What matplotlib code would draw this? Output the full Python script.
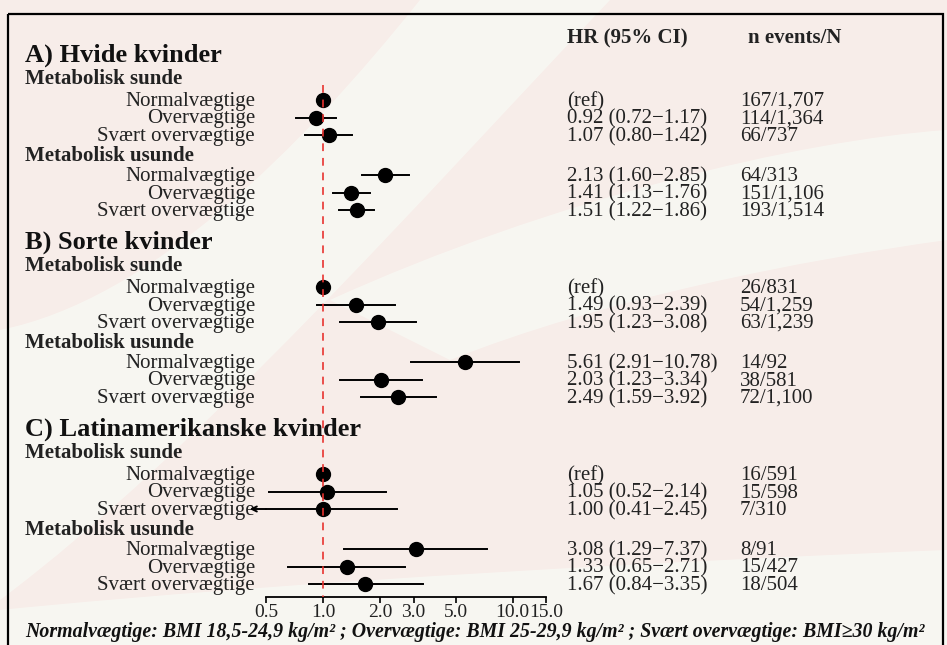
import numpy as np
import matplotlib
matplotlib.use("Agg")
import matplotlib.pyplot as plt
from matplotlib.patches import Rectangle, PathPatch
from matplotlib.path import Path

plt.rcParams['font.family'] = ['Liberation Serif', 'DejaVu Serif']

groups = ["A) Hvide kvinder", "B) Sorte kvinder", "C) Latinamerikanske kvinder"]
subgroups = ["Metabolisk sunde", "Metabolisk usunde"]
bmi_labels = ["Normalvægtige", "Overvægtige", "Svært overvægtige"]

nan = np.nan
hr_white = [1.00, 0.92, 1.07, 2.13, 1.41, 1.51]
lo_white = [nan, 0.72, 0.80, 1.60, 1.13, 1.22]
hi_white = [nan, 1.17, 1.42, 2.85, 1.76, 1.86]
ev_white = ["167/1,707", "114/1,364", "66/737", "64/313", "151/1,106", "193/1,514"]

hr_black = [1.00, 1.49, 1.95, 5.61, 2.03, 2.49]
lo_black = [nan, 0.93, 1.23, 2.91, 1.23, 1.59]
hi_black = [nan, 2.39, 3.08, 10.78, 3.34, 3.92]
ev_black = ["26/831", "54/1,259", "63/1,239", "14/92", "38/581", "72/1,100"]

hr_latina = [1.00, 1.05, 1.00, 3.08, 1.33, 1.67]
lo_latina = [nan, 0.52, 0.41, 1.29, 0.65, 0.84]
hi_latina = [nan, 2.14, 2.45, 7.37, 2.71, 3.35]
ev_latina = ["16/591", "15/598", "7/310", "8/91", "15/427", "18/504"]

hr_all = [hr_white, hr_black, hr_latina]
lo_all = [lo_white, lo_black, lo_latina]
hi_all = [hi_white, hi_black, hi_latina]
ev_all = [ev_white, ev_black, ev_latina]

xticks = [0.5, 1.0, 2.0, 3.0, 5.0, 10.0, 15.0]
footnote = ("Normalvægtige: BMI 18,5-24,9 kg/m² ; Overvægtige: BMI 25-29,9 kg/m² ; "
            "Svært overvægtige: BMI≥30 kg/m²")

W, H = 947, 645
fig = plt.figure(figsize=(W / 100, H / 100), dpi=100)
fig.patch.set_facecolor('#f7ede9')

# background layer in pixel coordinates
bg = fig.add_axes([0, 0, 1, 1])
bg.set_xlim(0, W)
bg.set_ylim(H, 0)
bg.axis('off')
bg.set_facecolor('none')

light = '#f8f8f3'
swooshes = [
    [(Path.MOVETO, (420, 0)), (Path.CURVE4, (300, 150)), (Path.CURVE4, (150, 300)), (Path.CURVE4, (0, 330)),
     (Path.LINETO, (0, 600)), (Path.CURVE4, (200, 450)), (Path.CURVE4, (420, 200)), (Path.CURVE4, (610, 0)),
     (Path.CLOSEPOLY, (420, 0))],
    [(Path.MOVETO, (330, 300)), (Path.CURVE4, (550, 200)), (Path.CURVE4, (800, 140)), (Path.CURVE4, (947, 130)),
     (Path.LINETO, (947, 240)), (Path.CURVE4, (800, 260)), (Path.CURVE4, (600, 300)), (Path.CURVE4, (450, 360)),
     (Path.CLOSEPOLY, (330, 300))],
    [(Path.MOVETO, (0, 610)), (Path.CURVE4, (300, 580)), (Path.CURVE4, (700, 560)), (Path.CURVE4, (947, 550)),
     (Path.LINETO, (947, 645)), (Path.LINETO, (0, 645)), (Path.CLOSEPOLY, (0, 610))],
]
for sw in swooshes:
    codes = [c for c, _ in sw]
    verts = [v for _, v in sw]
    bg.add_patch(PathPatch(Path(verts, codes), facecolor=light, edgecolor='none', alpha=0.9))

bg.add_patch(Rectangle((8, 14), 935, 700, fill=False, edgecolor='black', linewidth=1.6))

# forest axes: x log scale, y in pixel rows
axis_y = 597
ax = fig.add_axes([266 / W, (H - axis_y) / H, 280 / W, (axis_y - 40) / H])
ax.set_facecolor('none')
ax.set_xscale('log')
ax.set_xlim(0.5, 15)
ax.set_ylim(axis_y, 40)
for s in ['top', 'right', 'left']:
    ax.spines[s].set_visible(False)
ax.spines['bottom'].set_linewidth(1.3)
ax.set_yticks([])
ax.set_xticks(xticks)
ax.set_xticklabels([f"{t:.1f}" for t in xticks])
ax.xaxis.set_minor_locator(matplotlib.ticker.NullLocator())
ax.tick_params(axis='x', direction='out', length=4, width=1.2, labelsize=14,
               labelcolor='#222222', pad=1)

txt = '#222222'
hr_x, ev_x = 567, 740
dy = 1.5  # nudge text down so it sits level with the dots
bg.text(hr_x, 38, "HR (95% CI)", fontsize=15, fontweight='bold', color=txt, va='center')
bg.text(748, 38, "n events/N", fontsize=15, fontweight='bold', color=txt, va='center')

y = 55
row_gap = 17.5
for g, group in enumerate(groups):
    bg.text(25, y, group, fontsize=19, fontweight='bold', color='#111111', va='center')
    y += 24
    for s, sub in enumerate(subgroups):
        bg.text(25, y, sub, fontsize=15, fontweight='bold', color='#222222', va='center')
        y += 21 if s == 0 else 19
        for k, lab in enumerate(bmi_labels):
            i = s * 3 + k
            hr, lo, hi = hr_all[g][i], lo_all[g][i], hi_all[g][i]
            bg.text(255, y + dy, lab, fontsize=15, color=txt, ha='right', va='center')
            if np.isnan(lo):
                label = "(ref)"
            else:
                label = f"{hr:.2f} ({lo:.2f}\u2212{hi:.2f})"
                if lo < 0.5:
                    ax.plot([0.5, hi], [y, y], color='black', lw=1.4, clip_on=False, zorder=2)
                    ax.annotate('', xy=(lo, y), xytext=(0.5, y),
                                arrowprops=dict(arrowstyle='->', color='black', lw=1.4,
                                                mutation_scale=9, shrinkA=0, shrinkB=0),
                                annotation_clip=False, zorder=2)
                else:
                    ax.plot([lo, hi], [y, y], color='black', lw=1.4, clip_on=False, zorder=2)
            ax.plot(hr, y, 'o', color='black', ms=10, clip_on=False, zorder=3)
            bg.text(hr_x, y + dy, label, fontsize=15, color=txt, va='center')
            bg.text(ev_x, y + dy, ev_all[g][i], fontsize=15, color=txt, va='center')
            y += row_gap
        y += 21 - row_gap
    y += 32 - 21

ax.plot([1, 1], [85, axis_y], color='#e8322f', lw=1.4, ls=(0, (4, 3.5)), alpha=0.85,
        zorder=4, clip_on=False)

bg.text(25, 632, footnote, fontsize=14.3, fontweight='bold', fontstyle='italic',
        color='#111111', va='center')

fig.savefig('out.png', dpi=100, facecolor=fig.get_facecolor())
